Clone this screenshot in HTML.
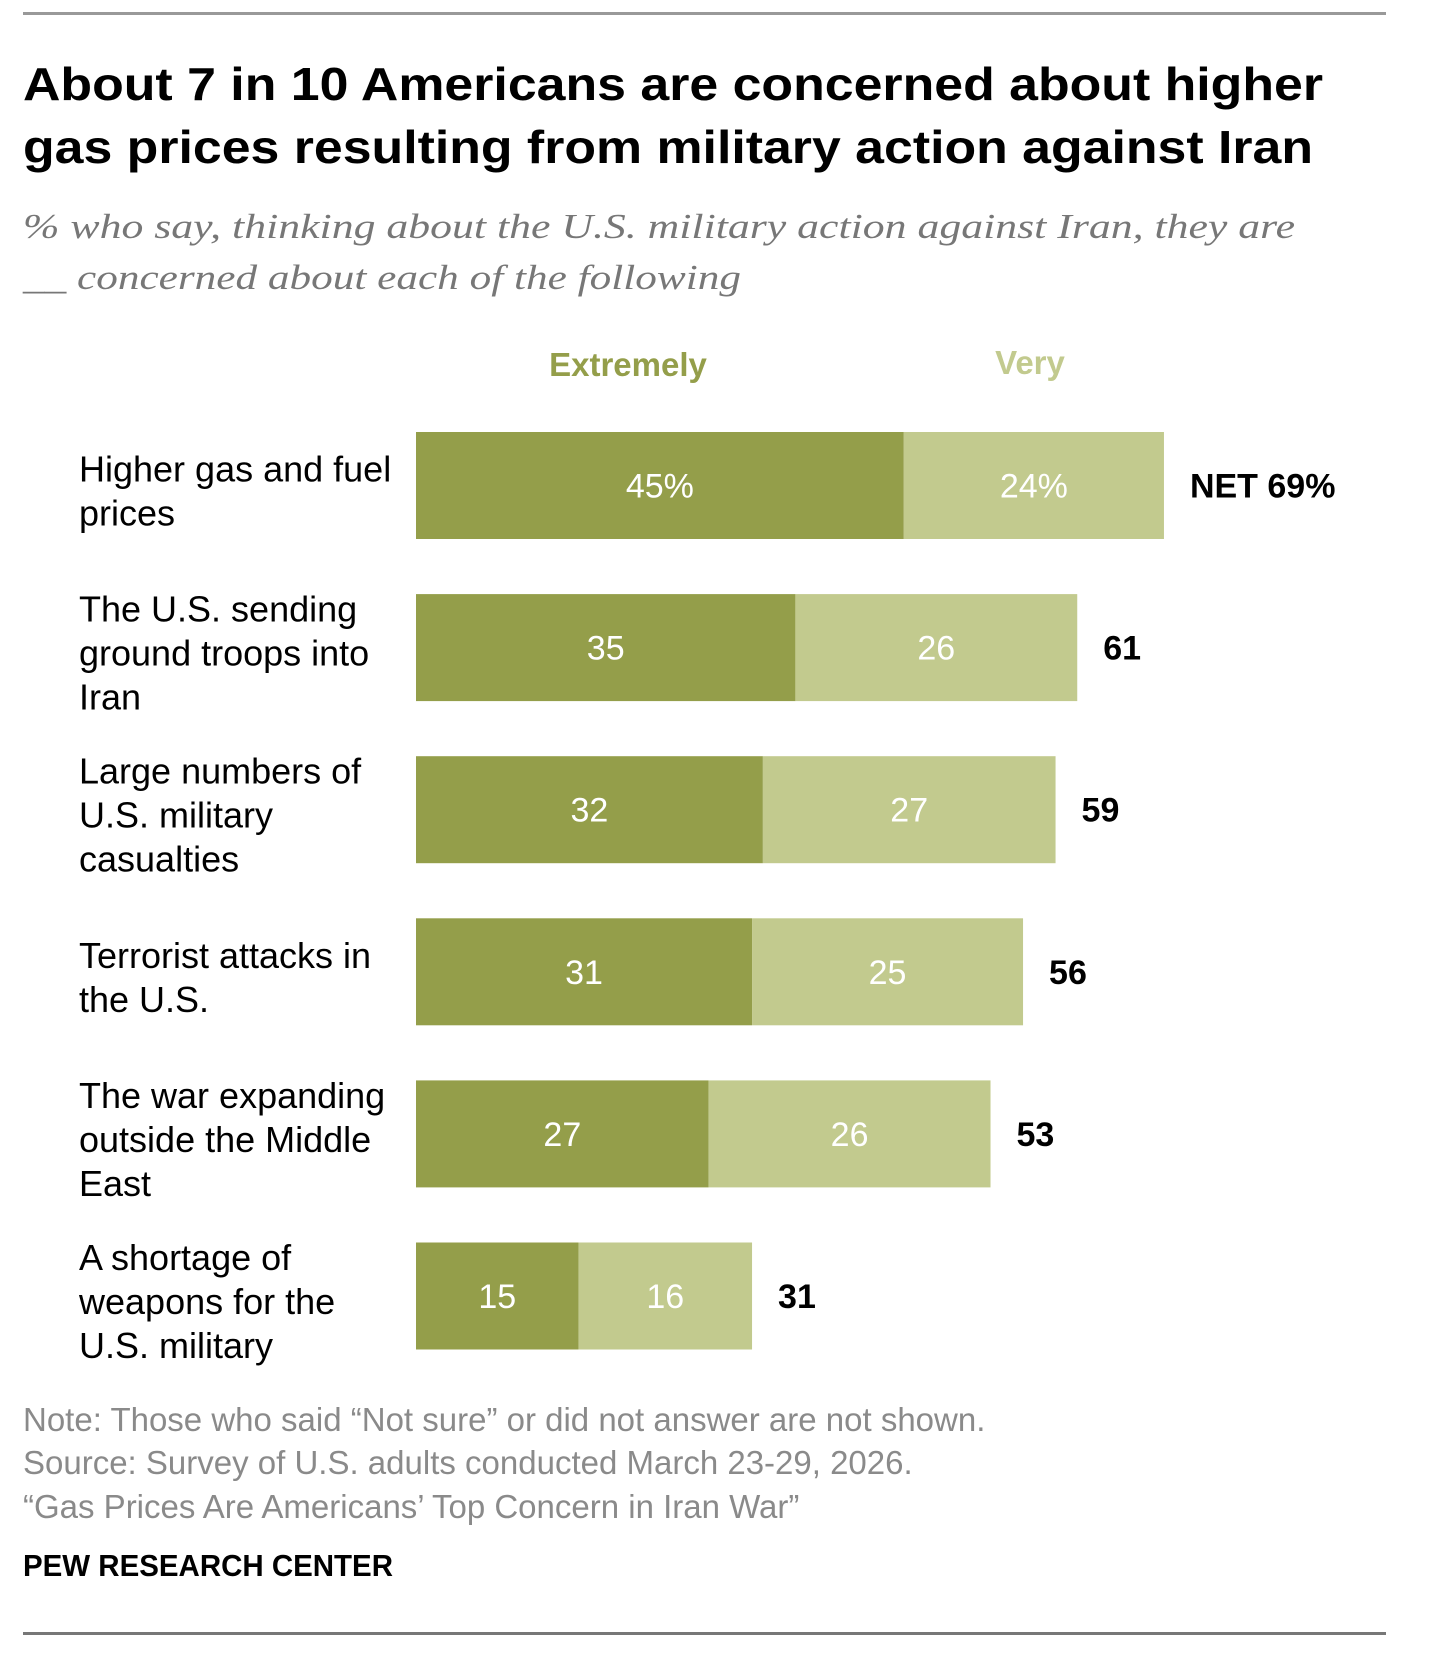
<!DOCTYPE html>
<html><head><meta charset="utf-8"><style>
html,body{margin:0;padding:0;background:#fff;width:1456px;height:1663px;overflow:hidden}
svg{display:block}
</style></head><body>
<svg id="chart" width="1456" height="1663" viewBox="0 0 1456 1663" xmlns="http://www.w3.org/2000/svg" font-family="'Liberation Sans', sans-serif">
<rect x="23" y="12" width="1363" height="3" fill="#999"/>
<text x="23" y="100" font-size="46" font-weight="bold" fill="#000" textLength="1300" lengthAdjust="spacingAndGlyphs">About 7 in 10 Americans are concerned about higher</text>
<text x="23" y="163" font-size="46" font-weight="bold" fill="#000" textLength="1290" lengthAdjust="spacingAndGlyphs">gas prices resulting from military action against Iran</text>
<text x="23" y="238" font-size="35" font-style="italic" fill="#777" font-family="'Liberation Serif', serif" textLength="1272" lengthAdjust="spacingAndGlyphs">% who say, thinking about the U.S. military action against Iran, they are</text>
<text x="23" y="289" font-size="35" font-style="italic" fill="#777" font-family="'Liberation Serif', serif" textLength="718" lengthAdjust="spacingAndGlyphs">__ concerned about each of the following</text>
<text x="628" y="376" font-size="33" font-weight="bold" fill="#949e4a" text-anchor="middle">Extremely</text>
<text x="1030" y="374" font-size="33" font-weight="bold" fill="#c2ca8e" text-anchor="middle">Very</text>
<g id="bars"></g>
<text x="23" y="1431" font-size="33" fill="#8a8a8a">Note: Those who said “Not sure” or did not answer are not shown.</text>
<text x="23" y="1474" font-size="33" fill="#8a8a8a">Source: Survey of U.S. adults conducted March 23-29, 2026.</text>
<text x="23" y="1518" font-size="33" fill="#8a8a8a">“Gas Prices Are Americans’ Top Concern in Iran War”</text>
<text x="23" y="1576" font-size="31" font-weight="bold" fill="#000" textLength="370" lengthAdjust="spacingAndGlyphs">PEW RESEARCH CENTER</text>
<rect x="23" y="1632" width="1363" height="3" fill="#777"/>
</svg>
<script>
const categories = [
  ["Higher gas and fuel","prices"],
  ["The U.S. sending","ground troops into","Iran"],
  ["Large numbers of","U.S. military","casualties"],
  ["Terrorist attacks in","the U.S."],
  ["The war expanding","outside the Middle","East"],
  ["A shortage of","weapons for the","U.S. military"]
];
const extremely = [45, 35, 32, 31, 27, 15];
const very = [24, 26, 27, 25, 26, 16];
const net = [69, 61, 59, 56, 53, 31];

const NS = "http://www.w3.org/2000/svg";
const g = document.getElementById('bars');
const x0 = 416, pxPerUnit = 10.84;
const xs = v => x0 + v * pxPerUnit;
const rowTop = i => 432 + i * 162.1;
const barH = 107;
function mk(tag, attrs, text) {
  const e = document.createElementNS(NS, tag);
  for (const k in attrs) e.setAttribute(k, attrs[k]);
  if (text !== undefined) e.textContent = text;
  g.appendChild(e);
  return e;
}
categories.forEach((lines, i) => {
  const y = rowTop(i), cy = y + barH / 2;
  const pct = i === 0 ? "%" : "";
  let r = mk('rect', {x: xs(0), y: y, width: xs(extremely[i]) - xs(0), height: barH, fill: '#949e4a'});
  
  
  r = mk('rect', {x: xs(extremely[i]), y: y, width: xs(extremely[i] + very[i]) - xs(extremely[i]), height: barH, fill: '#c2ca8e'});
  
  
  let t = mk('text', {x: (xs(0) + xs(extremely[i])) / 2, y: cy + 12, 'font-size': 34, fill: '#fff', 'text-anchor': 'middle'}, extremely[i] + pct);
  
  
  t = mk('text', {x: (xs(extremely[i]) + xs(extremely[i] + very[i])) / 2, y: cy + 12, 'font-size': 34, fill: '#fff', 'text-anchor': 'middle'}, very[i] + pct);
  
  
  t = mk('text', {x: xs(net[i]) + 26, y: cy + 12, 'font-size': 34, 'font-weight': 'bold', fill: '#000'}, (i === 0 ? "NET " : "") + net[i] + pct);
  
  
  const n = lines.length, lh = 44;
  lines.forEach((ln, j) => {
    const ty = cy + (j - (n - 1) / 2) * lh + 18;
    const lt = mk('text', {x: 79, y: ty, 'font-size': 36, fill: '#000'}, ln);
    
    
  });
});
</script>
</body></html>
